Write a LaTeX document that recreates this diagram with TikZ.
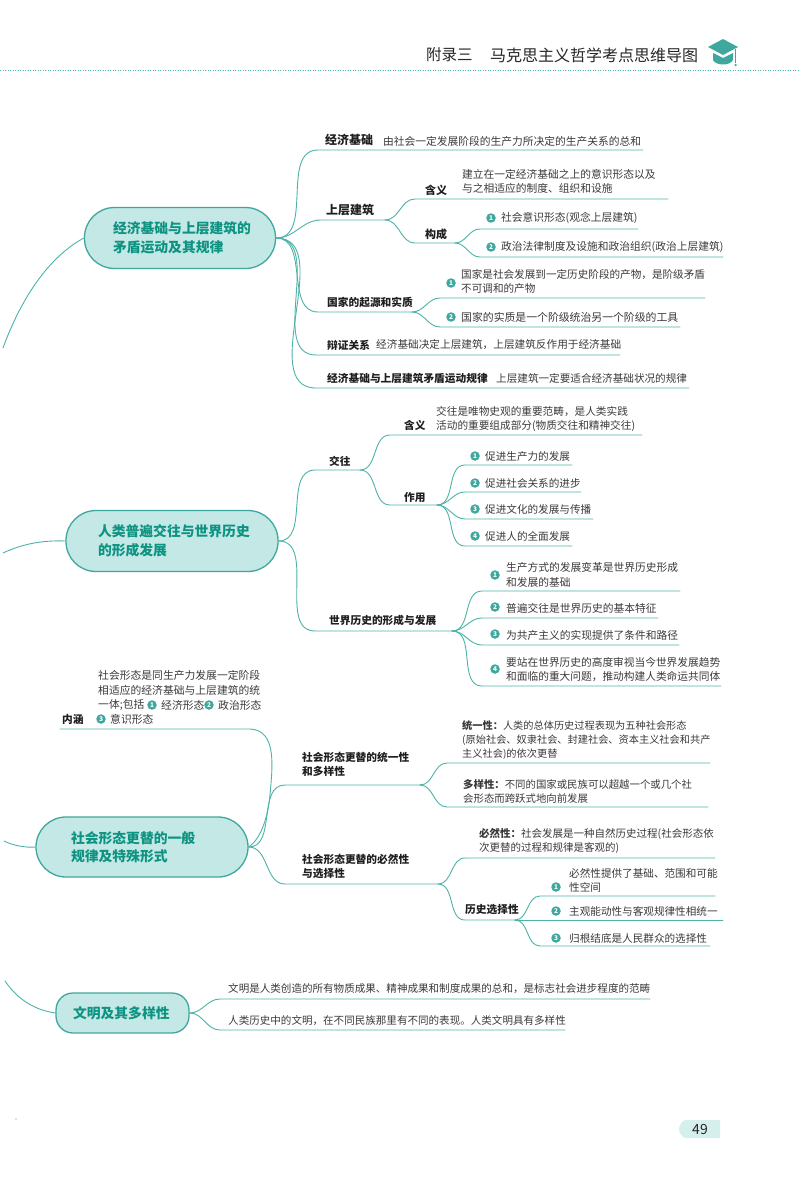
\documentclass[tikz,border=0pt]{standalone}
\usepackage{fontspec}
\setmainfont{Noto Sans CJK SC}
\definecolor{tealline}{HTML}{4DB3A8}
\definecolor{tealfill}{HTML}{C3E8E5}
\definecolor{tealedge}{HTML}{3FA89E}
\definecolor{tealtext}{HTML}{0E9382}
\definecolor{bodyink}{HTML}{3A3A3A}
\tikzset{
  conn/.style={draw=tealline,line width=0.9pt,line cap=round},
  hub/.style={draw=tealedge,fill=tealfill,line width=1.3pt,rounded corners=30pt,inner sep=0pt,align=left,text=tealtext,font=\fontsize{13.8}{18.5}\selectfont\bfseries},
  bodytext/.style={anchor=west,inner sep=0pt,align=left,text=bodyink,font=\fontsize{10.6}{14}\selectfont},
  label/.style={anchor=west,inner sep=0pt,align=left,text=black!88,font=\fontsize{10.7}{13.5}\selectfont\bfseries},
  biglabel/.style={label,font=\fontsize{12}{14}\selectfont\bfseries},
  numdot/.style={circle,fill=tealedge,text=white,inner sep=0pt,minimum size=9.5pt,font=\fontsize{6.5}{7}\selectfont\bfseries},
}
% \branch{from}{name}{x start}{x end}{y}
\newcommand\branch[5]{%
  \coordinate (#2s) at (#3,#5);
  \coordinate (#2e) at (#4,#5);
  \draw[conn] (#1) to[out=0,in=180] (#2s) -- (#2e);
}
\begin{document}
\begin{tikzpicture}[x=1pt,y=-1pt]
\useasboundingbox (0,0) rectangle (800,1196);
\fill[white] (0,0) rectangle (800,1196);

% header
\node[anchor=west,inner sep=0pt,text=black!85,font=\fontsize{15.5}{18}\selectfont] (hdA) at (426,55) {附录三};
\node[anchor=west,inner sep=0pt,text=black!85,font=\fontsize{16}{18}\selectfont] (hdB) at (490,55) {马克思主义哲学考点思维导图};
\coordinate (dotL) at (0,71);
\coordinate (dotR) at (800,71);
\draw[tealline,line width=1pt,dash pattern=on 0.8pt off 1.7pt] (dotL) -- (dotR);
\fill[tealedge] (723,39) -- (738,47) -- (723,55) -- (708,47) -- cycle;
\fill[tealedge] (713,53) -- (723,58) -- (733,53) -- (733,60) .. controls (730,66) and (716,66) .. (713,60) -- cycle;
\fill[tealedge] (735,49) rectangle (736.2,63);
\fill[tealedge] (735.6,65) circle (1.3);
\fill[black!50] (16,1119) circle (0.7);

% hub 1
\node[hub,minimum width=191pt,minimum height=61pt,text width=134pt] (h1) at (180,238) {经济基础与上层建筑的\\矛盾运动及其规律};
\coordinate (t1) at (3,348);
\draw[conn] (h1.west) .. controls (40,262) and (15,315) .. (t1);

\branch{h1.east}{a}{318}{643}{150}
\node[biglabel] (aL) at (325,140) {经济基础};
\node[bodytext,font=\fontsize{10.75}{14}\selectfont] (aT) at (383,141) {由社会一定发展阶段的生产力所决定的生产关系的总和};

\branch{h1.east}{b}{321}{385}{220}
\node[biglabel] (bL) at (326,210) {上层建筑};
\branch{be}{ba}{415}{668}{199}
\node[label,font=\fontsize{11}{13}\selectfont\bfseries] (baL) at (425,190) {含义};
\node[bodytext,font=\fontsize{10.75}{14}\selectfont] (baT) at (462,181) {建立在一定经济基础之上的意识形态以及\\与之相适应的制度、组织和设施};
\branch{be}{bb}{415}{455}{243}
\node[label,font=\fontsize{11}{13}\selectfont\bfseries] (bbL) at (425,234) {构成};
\branch{bbe}{bb1}{480}{638}{229}
\node[numdot] (bb1n) at (491,218) {1};
\node[bodytext,font=\fontsize{10.75}{14}\selectfont] (bb1T) at (501,218) {社会意识形态(观念上层建筑)};
\branch{bbe}{bb2}{480}{723}{257}
\node[numdot] (bb2n) at (491,247) {2};
\node[bodytext,font=\fontsize{10.75}{14}\selectfont] (bb2T) at (501,247) {政治法律制度及设施和政治组织(政治上层建筑)};

\branch{h1.east}{c}{318}{412}{312}
\node[label] (cL) at (327,302) {国家的起源和实质};
\branch{ce}{c1}{440}{705}{298}
\node[numdot] (c1n) at (451,283) {1};
\node[bodytext,font=\fontsize{10.6}{14}\selectfont] (c1T) at (461,281) {国家是社会发展到一定历史阶段的产物，是阶级矛盾\\不可调和的产物};
\branch{ce}{c2}{440}{680}{327}
\node[numdot] (c2n) at (451,317) {2};
\node[bodytext,font=\fontsize{10.85}{14}\selectfont] (c2T) at (461,317) {国家的实质是一个阶级统治另一个阶级的工具};

\branch{h1.east}{d}{316}{620}{355}
\node[label] (dL) at (327,345) {辩证关系};
\node[bodytext,font=\fontsize{10.65}{14}\selectfont] (dT) at (376,345) {经济基础决定上层建筑，上层建筑反作用于经济基础};

\branch{h1.east}{e}{316}{689}{388}
\node[label] (eL) at (327,378) {经济基础与上层建筑矛盾运动规律};
\node[bodytext] (eT) at (496,378) {上层建筑一定要适合经济基础状况的规律};

% hub 2
\node[hub,minimum width=212pt,minimum height=61pt,text width=148pt] (h2) at (172,541) {人类普遍交往与世界历史\\的形成发展};
\coordinate (t2) at (3,553);
\draw[conn] (h2.west) .. controls (40,540) and (20,545) .. (t2);

\branch{h2.east}{f}{315}{360}{470}
\node[label] (fL) at (329,461) {交往};
\branch{fe}{fa}{390}{642}{435}
\node[label] (faL) at (404,425) {含义};
\node[bodytext,font=\fontsize{10.65}{14}\selectfont] (faT) at (436,419) {交往是唯物史观的重要范畴，是人类实践\\活动的重要组成部分(物质交往和精神交往)};
\branch{fe}{fb}{390}{437}{505}
\node[label] (fbL) at (404,497) {作用};
\branch{fbe}{fb1}{465}{572}{465}
\node[numdot] (fb1n) at (475,456) {1};
\node[bodytext] (fb1T) at (485,456) {促进生产力的发展};
\branch{fbe}{fb2}{465}{581}{492}
\node[numdot] (fb2n) at (475,483) {2};
\node[bodytext] (fb2T) at (485,483) {促进社会关系的进步};
\branch{fbe}{fb3}{465}{593}{519}
\node[numdot] (fb3n) at (475,509) {3};
\node[bodytext] (fb3T) at (485,509) {促进文化的发展与传播};
\branch{fbe}{fb4}{465}{572}{546}
\node[numdot] (fb4n) at (475,536) {4};
\node[bodytext] (fb4T) at (485,536) {促进人的全面发展};

\branch{h2.east}{g}{315}{452}{631}
\node[label] (gL) at (329,620) {世界历史的形成与发展};
\branch{ge}{g1}{482}{680}{591}
\node[numdot] (g1n) at (495,575) {1};
\node[bodytext,font=\fontsize{10.75}{14.5}\selectfont] (g1T) at (506,575) {生产方式的发展变革是世界历史形成\\和发展的基础};
\branch{ge}{g2}{482}{658}{618}
\node[numdot] (g2n) at (495,607) {2};
\node[bodytext,font=\fontsize{10.75}{14.5}\selectfont] (g2T) at (506,608) {普遍交往是世界历史的基本特征};
\branch{ge}{g3}{482}{679}{645}
\node[numdot] (g3n) at (495,634) {3};
\node[bodytext,font=\fontsize{10.75}{14.5}\selectfont] (g3T) at (506,635) {为共产主义的实现提供了条件和路径};
\branch{ge}{g4}{482}{721}{686}
\node[numdot] (g4n) at (495,669) {4};
\node[bodytext,font=\fontsize{10.7}{14.5}\selectfont] (g4T) at (506,669.5) {要站在世界历史的高度审视当今世界发展趋势\\和面临的重大问题，推动构建人类命运共同体};

% hub 3
\node[hub,minimum width=212pt,minimum height=60pt,text width=142pt] (h3) at (142,847) {社会形态更替的一般\\规律及特殊形式};
\coordinate (t3) at (4,841);
\draw[conn] (h3.west) .. controls (25,848) and (12,845) .. (t3);

\coordinate (ns) at (60,729);
\coordinate (ne) at (250,729);
\draw[conn] (ns) -- (ne) .. controls (278,730) and (272,770) .. (270,795) .. controls (268,815) and (262,838) .. (h3.east);
\node[label] (nL) at (62,719) {内涵};
\node[bodytext,font=\fontsize{10.8}{15}\selectfont] (nT) at (98,682.5) {社会形态是同生产力发展一定阶段\\相适应的经济基础与上层建筑的统};
\node[bodytext,font=\fontsize{10.8}{15}\selectfont] (nT3a) at (98,705) {一体;包括};
\node[numdot] (n1) at (152,705) {1};
\node[bodytext,font=\fontsize{10.8}{15}\selectfont] (nT3b) at (161,705) {经济形态};
\node[numdot] (n2) at (209,705) {2};
\node[bodytext,font=\fontsize{10.8}{15}\selectfont] (nT3c) at (218,705) {政治形态};
\node[numdot] (n3) at (101,719) {3};
\node[bodytext,font=\fontsize{10.8}{15}\selectfont] (nT4) at (110,719) {意识形态};

\branch{h3.east}{p}{285}{420}{785}
\node[label] (pL) at (302,764.5) {社会形态更替的统一性\\和多样性};
\branch{pe}{p1}{447}{710}{763}
\node[bodytext,font=\fontsize{10.2}{14}\selectfont] (p1T) at (462,740) {\textbf{统一性：}人类的总体历史过程表现为五种社会形态\\(原始社会、奴隶社会、封建社会、资本主义社会和共产\\主义社会)的依次更替};
\branch{pe}{p2}{447}{708}{807}
\node[bodytext,font=\fontsize{10.4}{14}\selectfont] (p2T) at (463,791) {\textbf{多样性：}不同的国家或民族可以超越一个或几个社\\会形态而跨跃式地向前发展};

\branch{h3.east}{q}{285}{438}{884}
\node[label] (qL) at (302,866.5) {社会形态更替的必然性\\与选择性};
\branch{qe}{q1}{465}{715}{858}
\node[bodytext,font=\fontsize{10.5}{14}\selectfont] (q1T) at (479,840.5) {\textbf{必然性：}社会发展是一种自然历史过程(社会形态依\\次更替的过程和规律是客观的)};
\branch{qe}{q2}{465}{515}{920}
\node[label] (q2L) at (465,910) {历史选择性};
\branch{q2e}{r1}{540}{715}{896}
\node[numdot] (r1n) at (556,887) {1};
\node[bodytext] (r1T) at (569,880.5) {必然性提供了基础、范围和可能\\性空间};
\coordinate (r2e) at (723,920);
\draw[conn] (q2e) -- (r2e);
\node[numdot] (r2n) at (556,911) {2};
\node[bodytext] (r2T) at (569,911) {主观能动性与客观规律性相统一};
\branch{q2e}{r3}{540}{710}{946}
\node[numdot] (r3n) at (556,938) {3};
\node[bodytext] (r3T) at (569,938) {归根结底是人民群众的选择性};

% hub 4
\node[hub,rounded corners=17pt,minimum width=133pt,minimum height=40pt,text width=99pt] (h4) at (122.5,1013) {文明及其多样性};
\coordinate (t4) at (5,981);
\draw[conn] (h4.west) .. controls (35,1010) and (18,1000) .. (t4);
\branch{h4.east}{u}{220}{650}{999}
\node[bodytext,font=\fontsize{10.55}{14}\selectfont] (uT) at (228,989) {文明是人类创造的所有物质成果、精神成果和制度成果的总和，是标志社会进步程度的范畴};
\branch{h4.east}{v}{220}{565}{1030}
\node[bodytext,font=\fontsize{10.55}{14}\selectfont] (vT) at (228,1021) {人类历史中的文明，在不同民族那里有不同的表现。人类文明具有多样性};

% page number
\fill[tealfill!70] (720,1120) -- (686,1120) .. controls (682,1120) and (679,1126) .. (679,1129) .. controls (679,1132) and (682,1138) .. (686,1138) -- (720,1138) -- cycle;
\node[inner sep=0pt,text=black!85,font=\fontsize{14}{16}\selectfont] (pg) at (700,1129) {49};
\end{tikzpicture}
\end{document}
